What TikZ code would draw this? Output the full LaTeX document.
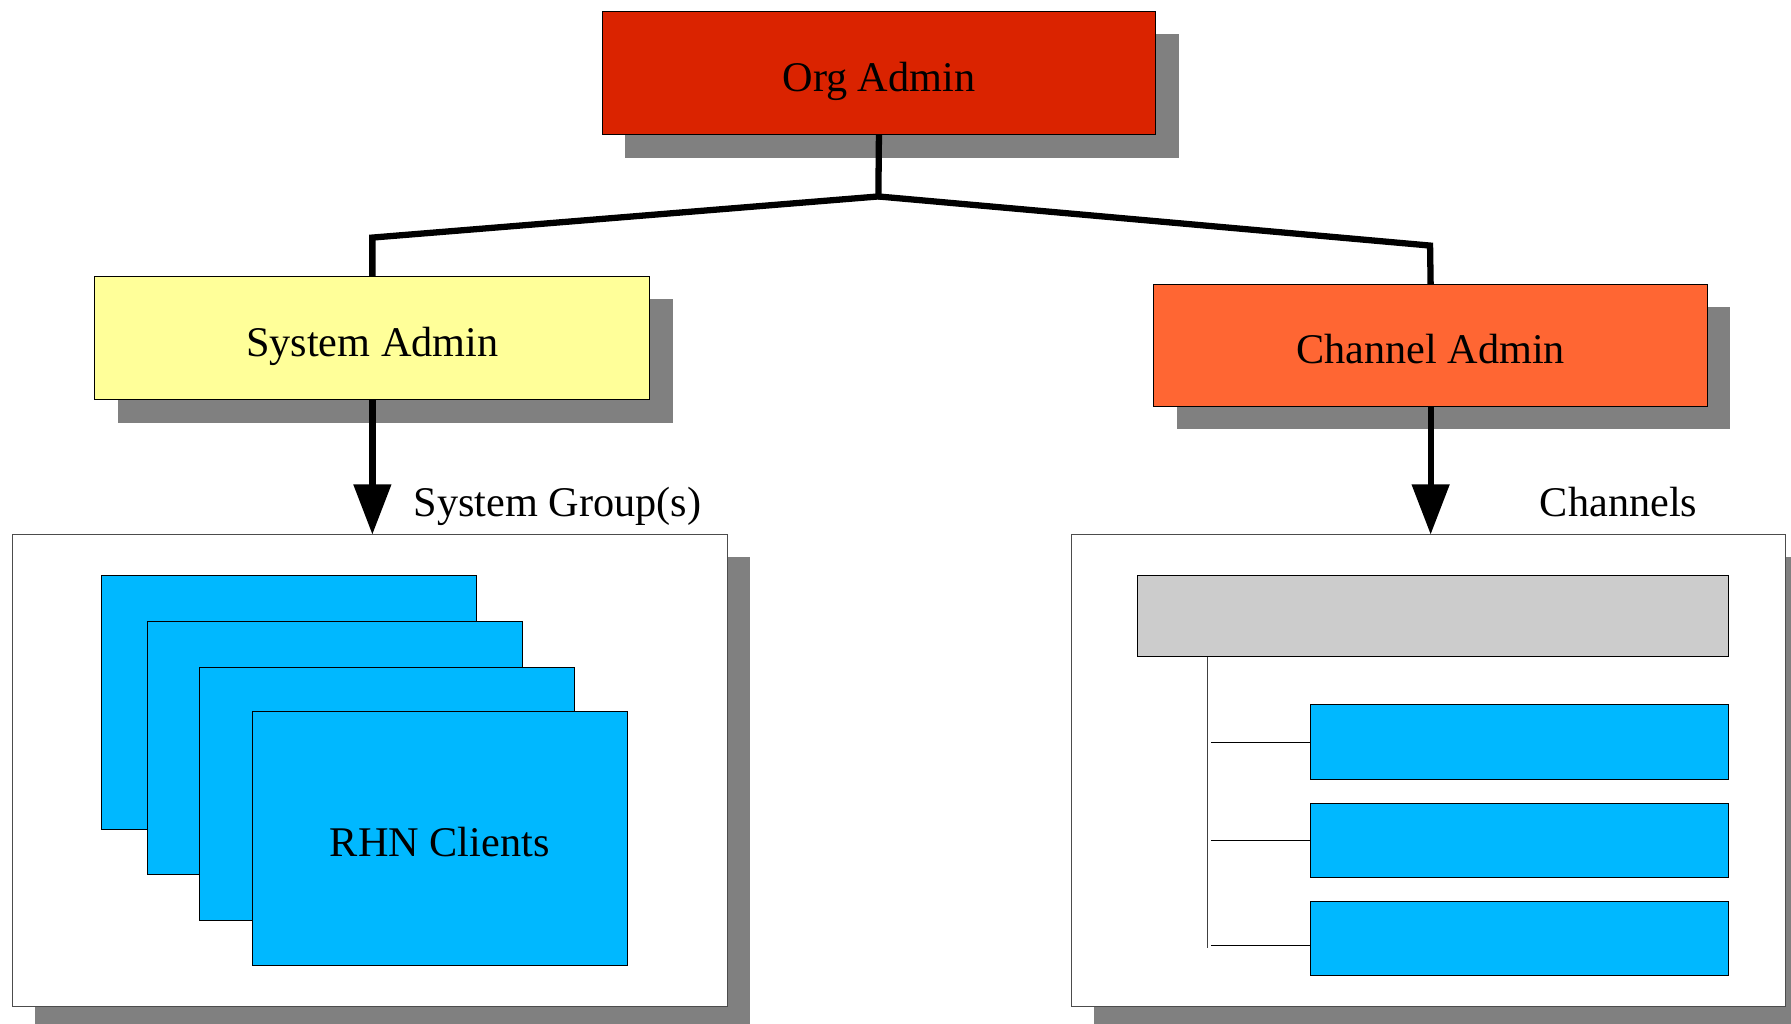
\documentclass[tikz,border=0pt]{standalone}
\usepackage{fontspec}
\setmainfont{Liberation Serif}
\usetikzlibrary{arrows.meta,shadows}
\definecolor{orgred}{RGB}{218,35,0}
\definecolor{sysyellow}{RGB}{255,255,153}
\definecolor{chanorange}{RGB}{255,102,51}
\definecolor{clientblue}{RGB}{0,184,255}
\definecolor{bargray}{RGB}{204,204,204}
\definecolor{shadowgray}{RGB}{128,128,128}
\tikzset{
  label font/.style={font=\fontsize{37}{44}\selectfont},
  box/.style={draw=black, line width=0.8pt, rectangle, inner sep=0pt, outer sep=0pt,
    anchor=north west, label font, text height=32pt, text depth=0pt},
  shadowed/.style={drop shadow={shadow xshift=20pt, shadow yshift=-20pt,
    fill=shadowgray, opacity=1}},
  frame/.style={box, draw=black!70, fill=white, shadowed},
  tree/.style={line width=5.5pt, line join=miter},
  down arrow/.style={line width=5.5pt, -{Triangle[width=32pt,length=44pt]}},
  thin link/.style={line width=0.8pt},
}
\begin{document}
\begin{tikzpicture}[x=1pt, y=-1pt]
\useasboundingbox (0,0) rectangle (1568,896);

% administrator boxes
\node[box, fill=orgred, shadowed, minimum width=485pt, minimum height=108pt]
  (org) at (527,10) {Org Admin};
\node[box, fill=sysyellow, shadowed, minimum width=486pt, minimum height=108pt]
  (sys) at (83,242) {System Admin};
\node[box, fill=chanorange, shadowed, minimum width=485pt, minimum height=107pt]
  (chan) at (1010,249) {Channel Admin};

% branching from the organisation administrator
\coordinate (split) at (769,172);
\coordinate (sysbend) at (326,208);
\coordinate (chanbend) at (1252,215);
\draw[tree] (org.south) -- (split) -- (sysbend) -- (sys.north);
\draw[tree] (split) -- (chanbend) -- (chan.north);

% group containers
\node[frame, minimum width=626pt, minimum height=413pt] (groups) at (11,468) {};
\node[frame, minimum width=625pt, minimum height=413pt] (channels) at (938,468) {};

\node[label font, anchor=base west, inner sep=0pt] (grouptitle) at (362,452) {System Group(s)};
\node[label font, anchor=base west, inner sep=0pt] (chantitle) at (1348,452) {Channels};

\draw[down arrow] (sys.south) -- (groups.north west -| sys.south);
\draw[down arrow] (chan.south) -- (channels.north west -| chan.south);

% stacked client cards
\node[box, fill=clientblue, minimum width=328pt, minimum height=222pt] (c1) at (89,504) {};
\node[box, fill=clientblue, minimum width=328pt, minimum height=222pt] (c2) at (129,544) {};
\node[box, fill=clientblue, minimum width=328pt, minimum height=222pt] (c3) at (175,584) {};
\node[box, fill=clientblue, minimum width=328pt, minimum height=222pt] (c4) at (221,623) {RHN Clients};

% channel tree: parent bar and child channels
\node[box, fill=bargray, minimum width=517pt, minimum height=71pt] (parent) at (996,504) {};
\node[box, fill=clientblue, minimum width=366pt, minimum height=65pt] (ch1) at (1147,617) {};
\node[box, fill=clientblue, minimum width=366pt, minimum height=65pt] (ch2) at (1147,703) {};
\node[box, fill=clientblue, minimum width=366pt, minimum height=65pt] (ch3) at (1147,789) {};

\coordinate (trunktop) at (1057,575);
\coordinate (trunkbottom) at (1057,830);
\draw[thin link, draw=black!75] (trunktop) -- (trunkbottom);
\coordinate (b1) at (1060,650);
\coordinate (b2) at (1060,736);
\coordinate (b3) at (1060,828);
\draw[thin link] (b1) -- (b1 -| ch1.west);
\draw[thin link] (b2) -- (b2 -| ch2.west);
\draw[thin link] (b3) -- (b3 -| ch3.west);
\end{tikzpicture}
\end{document}
